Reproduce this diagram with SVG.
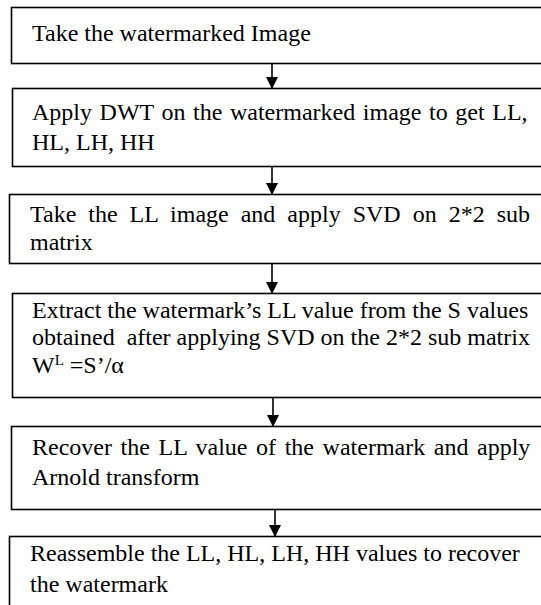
<svg xmlns="http://www.w3.org/2000/svg" width="541" height="605" viewBox="0 0 541 605">
<defs>
<marker id="ah" markerWidth="12" markerHeight="12" refX="11" refY="6" orient="auto" markerUnits="userSpaceOnUse">
<path d="M0,0 L12,6 L0,12 Z" fill="#000"/>
</marker>
<style>
.box{fill:#fff;stroke:#000;stroke-width:1.6}
.t{font-family:"Liberation Serif","Times New Roman",serif;font-size:24px;fill:#000}
.c{stroke:#000;stroke-width:1.6;fill:none}
</style>
</defs>
<rect width="541" height="605" fill="#fff"/>
<g id="n1"><rect class="box" x="11.5" y="7.5" width="540" height="56"/>
<text class="t" x="32" y="41">Take the watermarked Image</text></g>
<g id="n2"><rect class="box" x="12.5" y="88.5" width="540" height="78"/>
<text class="t" x="32" y="120" word-spacing="1.6">Apply DWT on the watermarked image to get LL,</text>
<text class="t" x="32" y="150">HL, LH, HH</text></g>
<g id="n3"><rect class="box" x="9.5" y="194.5" width="540" height="69"/>
<text class="t" x="30" y="222" word-spacing="6">Take the LL image and apply SVD on 2*2 sub</text>
<text class="t" x="30" y="250">matrix</text></g>
<g id="n4"><rect class="box" x="12.5" y="293.5" width="540" height="104"/>
<text class="t" x="32" y="318">Extract the watermark’s LL value from the S values</text>
<text class="t" x="32" y="345" xml:space="preserve">obtained  after applying SVD on the 2*2 sub matrix</text>
<text class="t" x="32" y="373">W<tspan font-size="15" dy="-8">L</tspan><tspan dy="8"> =S’/α</tspan></text></g>
<g id="n5"><rect class="box" x="11.5" y="426.5" width="540" height="83"/>
<text class="t" x="32" y="455" word-spacing="2.6">Recover the LL value of the watermark and apply</text>
<text class="t" x="32" y="485">Arnold transform</text></g>
<g id="n6"><rect class="box" x="9.5" y="536.5" width="540" height="90"/>
<text class="t" x="30" y="561">Reassemble the LL, HL, LH, HH values to recover</text>
<text class="t" x="30" y="592">the watermark</text></g>
<g id="connectors">
<line class="c" x1="272" y1="63.5" x2="272" y2="88" marker-end="url(#ah)"/>
<line class="c" x1="272" y1="166.5" x2="272" y2="194" marker-end="url(#ah)"/>
<line class="c" x1="272" y1="263.5" x2="272" y2="293" marker-end="url(#ah)"/>
<line class="c" x1="273" y1="397.5" x2="273" y2="426" marker-end="url(#ah)"/>
<line class="c" x1="275" y1="509.5" x2="275" y2="536" marker-end="url(#ah)"/>
</g>
</svg>
